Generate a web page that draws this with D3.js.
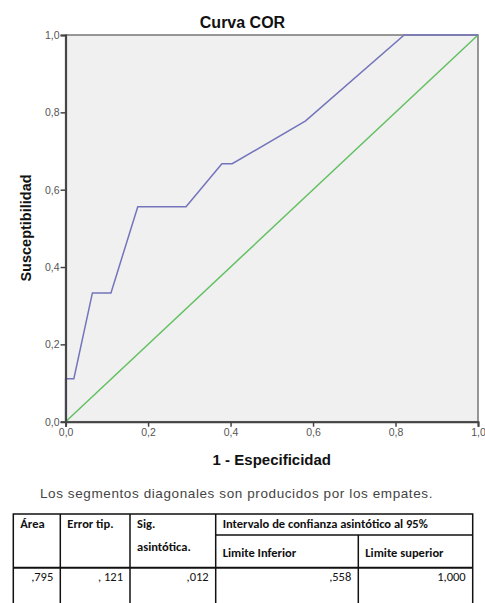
<!DOCTYPE html>
<html>
<head>
<meta charset="utf-8">
<script src="https://cdn.jsdelivr.net/npm/d3@7"></script>
<style>
  body { margin: 0; background: #fff; }
  svg { display: block; }
  .tick text { font-family: Arial, "Liberation Sans", sans-serif; font-size: 10.5px; fill: #555; }
  .tbl { font-family: Carlito, "Liberation Sans", sans-serif; font-size: 12.5px; fill: #111; }
</style>
</head>
<body>
<svg id="chart" width="485" height="603"></svg>
<script>
// ROC curve points (1 - especificidad, susceptibilidad)
let fprValues = [0, 0, 0.02, 0.065, 0.11, 0.175, 0.292, 0.379, 0.404, 0.582, 0.821, 1.0];
let tprValues = [0, 0.111, 0.111, 0.333, 0.333, 0.556, 0.556, 0.667, 0.667, 0.778, 1.0, 1.0];
let refLine = [0, 1];
let tickValues = [0, 0.2, 0.4, 0.6, 0.8, 1.0];

// table contents
let headerTop = ["Área", "Error tip.", "Sig.", "Intervalo de confianza asintótico al 95%"];
let headerSub = ["Limite Inferior", "Limite superior"];
let rowValues = [",795", ", 121", ",012", ",558", "1,000"];

let margin = {top: 35, left: 65.6, right: 478, bottom: 421.7};
let svg = d3.select("#chart");

let x = d3.scaleLinear().domain([0, 1]).range([margin.left, margin.right]);
let y = d3.scaleLinear().domain([0, 1]).range([margin.bottom, margin.top]);
let fmt = d => d3.format(".1f")(d).replace(".", ",");

svg.append("rect")
    .attr("x", x(0)).attr("y", y(1))
    .attr("width", x(1) - x(0)).attr("height", y(0) - y(1))
    .attr("fill", "#f0f0f0")
    .attr("stroke", "#777").attr("stroke-width", 1.5);

let line = d3.line().x(d => x(d[0])).y(d => y(d[1]));

svg.append("path")
    .datum(refLine.map(d => [d, d]))
    .attr("d", line)
    .attr("fill", "none").attr("stroke", "#62c062").attr("stroke-width", 1.5);

svg.append("path")
    .datum(fprValues.map((d, i) => [d, tprValues[i]]))
    .attr("d", line)
    .attr("fill", "none").attr("stroke", "#7474bb").attr("stroke-width", 1.5);

let xAxis = svg.append("g")
    .attr("transform", "translate(0," + y(0) + ")")
    .call(d3.axisBottom(x).tickValues(tickValues).tickFormat(fmt).tickSize(5).tickPadding(2));
let yAxis = svg.append("g")
    .attr("transform", "translate(" + x(0) + ",0)")
    .call(d3.axisLeft(y).tickValues(tickValues).tickFormat(fmt).tickSize(5).tickPadding(1));

[xAxis, yAxis].forEach(g => {
    g.select(".domain").attr("stroke", "#444").attr("stroke-width", 2);
    g.selectAll(".tick line").attr("stroke", "#444").attr("stroke-width", 1.5);
});

svg.append("text")
    .attr("x", 242.5).attr("y", 28)
    .attr("text-anchor", "middle")
    .attr("font-family", "Arial, 'Liberation Sans', sans-serif")
    .attr("font-weight", "bold").attr("font-size", 16)
    .attr("fill", "#111")
    .text("Curva COR");

svg.append("text")
    .attr("x", (x(0) + x(1)) / 2).attr("y", 465)
    .attr("text-anchor", "middle")
    .attr("font-family", "Arial, 'Liberation Sans', sans-serif")
    .attr("font-weight", "bold").attr("font-size", 15)
    .attr("fill", "#111")
    .text("1 - Especificidad");

svg.append("text")
    .attr("transform", "translate(31,228) rotate(-90)")
    .attr("text-anchor", "middle")
    .attr("font-family", "Arial, 'Liberation Sans', sans-serif")
    .attr("font-weight", "bold").attr("font-size", 14.5)
    .attr("fill", "#111")
    .text("Susceptibilidad");

svg.append("text")
    .attr("x", 236.5).attr("y", 498)
    .attr("text-anchor", "middle")
    .attr("font-family", "Arial, 'Liberation Sans', sans-serif")
    .attr("font-size", 13.5)
    .attr("letter-spacing", 0.6)
    .attr("fill", "#444")
    .text("Los segmentos diagonales son producidos por los empates.");

// table
let colX = [13.3, 60.3, 130, 215.7, 358.3, 472.7];
let rowY = {top: 514, sub: 535, head: 567.7, bottom: 610};
let tbl = svg.append("g").attr("stroke", "#111");

tbl.append("rect")
    .attr("x", colX[0]).attr("y", rowY.top)
    .attr("width", colX[5] - colX[0]).attr("height", rowY.bottom - rowY.top)
    .attr("fill", "none").attr("stroke-width", 1.5);
colX.slice(1, 4).forEach(cx => {
    tbl.append("line").attr("x1", cx).attr("x2", cx)
        .attr("y1", rowY.top).attr("y2", rowY.bottom).attr("stroke-width", 1.5);
});
tbl.append("line").attr("x1", colX[4]).attr("x2", colX[4])
    .attr("y1", rowY.sub).attr("y2", rowY.bottom).attr("stroke-width", 1.5);
tbl.append("line").attr("x1", colX[3]).attr("x2", colX[5])
    .attr("y1", rowY.sub).attr("y2", rowY.sub).attr("stroke-width", 1.5);
tbl.append("line").attr("x1", colX[0]).attr("x2", colX[5])
    .attr("y1", rowY.head).attr("y2", rowY.head).attr("stroke-width", 2);

let hdr = svg.append("g").attr("class", "tbl").attr("font-weight", "bold");
headerTop.forEach((t, i) => {
    hdr.append("text").attr("x", colX[i] + 7).attr("y", 528).text(t);
});
hdr.append("text").attr("x", colX[2] + 7).attr("y", 551).text("asintótica.");
headerSub.forEach((t, i) => {
    hdr.append("text").attr("x", colX[3 + i] + 7).attr("y", 557).text(t);
});

let vals = svg.append("g").attr("class", "tbl").attr("text-anchor", "end");
rowValues.forEach((t, i) => {
    vals.append("text").attr("x", colX[i + 1] - 7).attr("y", 581).text(t);
});
</script>
</body>
</html>
